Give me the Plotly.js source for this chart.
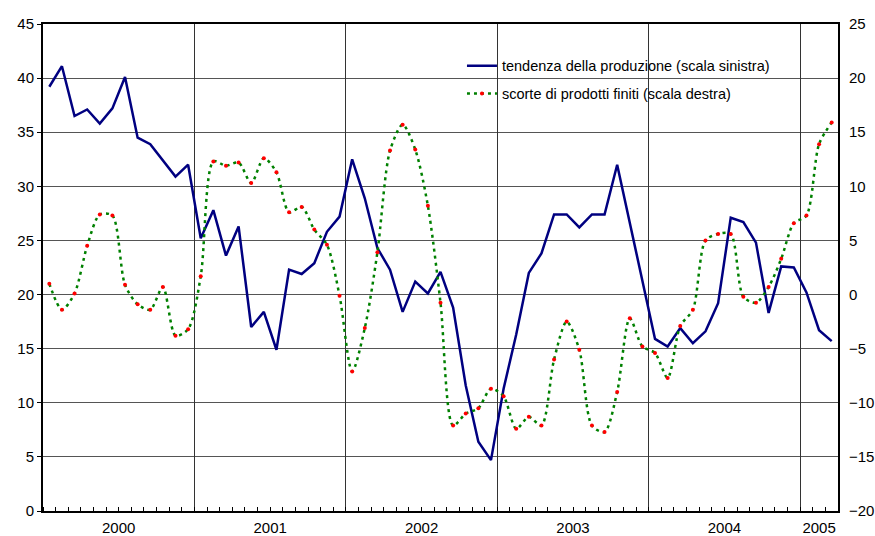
<!DOCTYPE html>
<html>
<head>
<meta charset="utf-8">
<script src="https://cdn.plot.ly/plotly-3.0.1.min.js"></script>
<style>html,body{margin:0;padding:0;background:#fff;}#chart{width:875px;height:536px;}</style>
</head>
<body>
<div id="chart"></div>
<script>
// Years and number of monthly observations in each
const years = ['2000', '2001', '2002', '2003', '2004', '2005'];
const monthsPerYear = [12, 12, 12, 12, 12, 3];

// tendenza della produzione (scala sinistra)
const produzione = [
  39.2, 41.1, 36.5, 37.1, 35.8, 37.2, 40.1, 34.5, 33.9, 32.4, 30.9, 32.0,
  25.2, 27.8, 23.6, 26.3, 17.0, 18.4, 14.9, 22.3, 21.9, 22.9, 25.8, 27.2,
  32.5, 28.9, 24.3, 22.3, 18.4, 21.2, 20.1, 22.1, 18.8, 11.6, 6.4, 4.7,
  11.3, 16.3, 22.0, 23.8, 27.4, 27.4, 26.2, 27.4, 27.4, 32.0, 26.7, 21.4,
  15.9, 15.2, 16.9, 15.5, 16.6, 19.2, 27.1, 26.7, 24.8, 18.3, 22.6, 22.5,
  20.2, 16.7, 15.7
];

// scorte di prodotti finiti (scala destra)
const scorte = [
  1.0, -1.4, 0.1, 4.5, 7.4, 7.3, 0.9, -0.9, -1.4, 0.7, -3.8, -3.2,
  1.7, 12.3, 11.9, 12.2, 10.3, 12.6, 11.3, 7.6, 8.1, 6.0, 4.6, -0.1,
  -7.1, -3.1, 3.9, 13.3, 15.7, 13.4, 8.2, -0.75, -12.1, -11.0, -10.5, -8.7,
  -9.4, -12.4, -11.3, -12.1, -6.0, -2.5, -5.1, -12.1, -12.7, -9.0, -2.2, -4.8,
  -5.4, -7.7, -2.9, -1.4, 5.0, 5.6, 5.6, -0.2, -0.75, 0.7, 3.3, 6.6,
  7.3, 13.9, 15.9
];

const seriesNames = ['tendenza della produzione (scala sinistra)', 'scorte di prodotti finiti (scala destra)'];

// derived positions (month centres, year centres, year boundaries)
const xMonths = produzione.map((_, i) => i + 0.5);
const yearCenters = [];
const yearBounds = [];
let acc = 0;
monthsPerYear.forEach((n, k) => {
  yearCenters.push(acc + n / 2);
  acc += n;
  if (k < monthsPerYear.length - 1) yearBounds.push(acc);
});
const totalMonths = acc;

const font = 'Liberation Sans, Arial, sans-serif';

const traces = [
  {
    x: xMonths, y: produzione, name: seriesNames[0], legendgroup: 'a',
    type: 'scatter', mode: 'lines',
    line: {color: '#000080', width: 2.5},
    xaxis: 'x', yaxis: 'y'
  },
  {
    x: xMonths, y: scorte, name: seriesNames[1], legendgroup: 'b',
    type: 'scatter', mode: 'lines+markers',
    line: {color: '#008000', width: 2.5, dash: '3px,4px', shape: 'spline', smoothing: 0.8},
    marker: {color: '#ff0000', size: 4},
    xaxis: 'x2', yaxis: 'y2'
  }
];

const layout = {
  width: 875, height: 536,
  margin: {l: 43, r: 37, t: 24, b: 25},
  paper_bgcolor: '#fff', plot_bgcolor: '#fff',
  font: {family: font, size: 15, color: '#000'},
  showlegend: true,
  legend: {
    x: 0.527, y: 0.947, xanchor: 'left', yanchor: 'top',
    bgcolor: 'rgba(0,0,0,0)', borderwidth: 0,
    font: {family: font, size: 14.5, color: '#000'},
    tracegroupgap: 6
  },
  shapes: [{
    type: 'rect', xref: 'paper', yref: 'paper', layer: 'between',
    x0: 0.488, x1: 0.956, y0: 0.823, y1: 0.9425,
    fillcolor: '#fff', line: {width: 0}
  }],
  xaxis: {
    range: [0, totalMonths],
    tickmode: 'array', tickvals: yearCenters, ticktext: years,
    ticks: '', showgrid: false, zeroline: false,
    showline: true, linecolor: '#000', linewidth: 2, mirror: true,
    ticklabelstandoff: 2,
    tickfont: {family: font, size: 15}
  },
  xaxis2: {
    range: [0, totalMonths], overlaying: 'x', anchor: 'y',
    tickmode: 'array', tickvals: yearBounds, showticklabels: false,
    ticks: '', showgrid: true, gridcolor: '#333', gridwidth: 1,
    zeroline: false, showline: false,
    minor: {tickmode: 'linear', tick0: 0, dtick: 1, ticks: 'inside', ticklen: 4, tickcolor: '#000', tickwidth: 1, showgrid: false}
  },
  yaxis: {
    range: [0, 45], dtick: 5, tick0: 0,
    showgrid: true, gridcolor: '#555', gridwidth: 1.2,
    zeroline: false, showline: true, linecolor: '#000', linewidth: 2,
    ticks: 'outside', ticklen: 4, tickcolor: '#000',
    tickfont: {family: font, size: 15}
  },
  yaxis2: {
    range: [-20, 25], dtick: 5, tick0: 0,
    overlaying: 'y', side: 'right',
    showgrid: false, zeroline: false, showline: true, linecolor: '#000', linewidth: 2,
    ticks: '', ticklabelstandoff: 6,
    tickfont: {family: font, size: 15}
  }
};

Plotly.newPlot('chart', traces, layout, {displayModeBar: false, staticPlot: true});
</script>
</body>
</html>
